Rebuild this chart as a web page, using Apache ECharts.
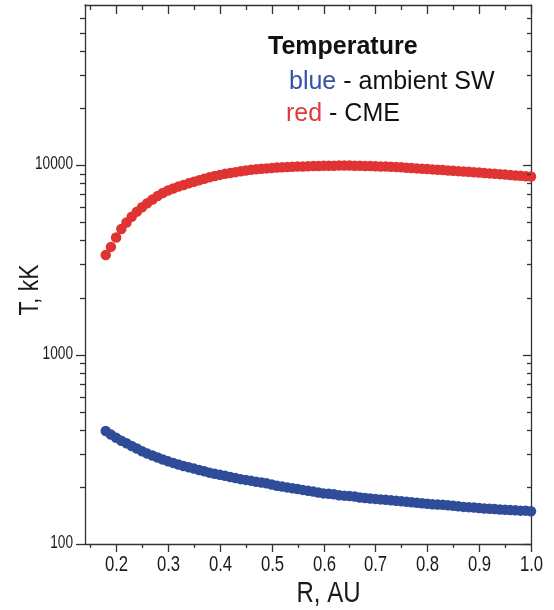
<!DOCTYPE html>
<html>
<head>
<meta charset="utf-8">
<script src="https://cdn.jsdelivr.net/npm/echarts@6/dist/echarts.min.js"></script>
<style>
  html, body { margin: 0; padding: 0; background: #fff; }
  #chart { width: 554px; height: 610px; }
</style>
</head>
<body>
<div id="chart"></div>
<script>
  // 读图得到的数据 (R in AU, T in kK)
  var radius = [0.18, 0.19, 0.20, 0.21, 0.22, 0.23, 0.24, 0.25, 0.26, 0.27, 0.28, 0.29,
    0.30, 0.31, 0.32, 0.33, 0.34, 0.35, 0.36, 0.37, 0.38, 0.39, 0.40, 0.41, 0.42, 0.43,
    0.44, 0.45, 0.46, 0.47, 0.48, 0.49, 0.50, 0.51, 0.52, 0.53, 0.54, 0.55, 0.56, 0.57,
    0.58, 0.59, 0.60, 0.61, 0.62, 0.63, 0.64, 0.65, 0.66, 0.67, 0.68, 0.69, 0.70, 0.71,
    0.72, 0.73, 0.74, 0.75, 0.76, 0.77, 0.78, 0.79, 0.80, 0.81, 0.82, 0.83, 0.84, 0.85,
    0.86, 0.87, 0.88, 0.89, 0.90, 0.91, 0.92, 0.93, 0.94, 0.95, 0.96, 0.97, 0.98, 0.99, 1.00];
  var tempAmbient = [395, 378, 364, 351, 340, 329, 319, 309, 300, 293, 286, 279,
    273, 268, 263, 258, 254, 250, 246, 242, 238, 235, 232, 229, 226, 223,
    220, 218, 216, 213, 211, 209, 206, 203, 201, 199, 197, 195, 193, 191,
    189, 187, 185, 184, 183, 181, 180, 179, 178, 176, 175, 174, 173, 172,
    171, 170, 169, 168, 167, 166, 165, 164, 163, 162, 161.5, 161, 160, 159,
    158, 157, 156.5, 156, 155, 154, 153.5, 153, 152, 151.5, 151, 150.5, 150, 150, 149];
  var tempCME = [3350, 3700, 4150, 4600, 4980, 5340, 5680, 5990, 6290, 6580, 6860, 7130,
    7350, 7530, 7700, 7860, 8010, 8160, 8320, 8480, 8630, 8760, 8880, 8990, 9090, 9180,
    9270, 9360, 9440, 9500, 9560, 9610, 9660, 9700, 9740, 9770, 9800, 9820, 9840, 9860,
    9880, 9900, 9910, 9920, 9930, 9940, 9940, 9940, 9930, 9920, 9900, 9880, 9860, 9840,
    9820, 9790, 9760, 9730, 9690, 9650, 9610, 9570, 9530, 9490, 9450, 9410, 9370, 9330,
    9290, 9250, 9210, 9170, 9130, 9090, 9040, 9000, 8960, 8910, 8870, 8820, 8780, 8740, 8700];

  // 刻度和刻度标签
  var xMajorTicks = [0.2, 0.3, 0.4, 0.5, 0.6, 0.7, 0.8, 0.9, 1.0];
  var xTickLabels = ['0.2', '0.3', '0.4', '0.5', '0.6', '0.7', '0.8', '0.9', '1.0'];
  var xMinorTicks = [0.15, 0.25, 0.35, 0.45, 0.55, 0.65, 0.75, 0.85, 0.95];
  var yMajorTicks = [100, 1000, 10000];
  var yTickLabels = ['100', '1000', '10000'];
  var yMinorTicks = [200, 300, 400, 500, 600, 700, 800, 900,
    2000, 3000, 4000, 5000, 6000, 7000, 8000, 9000,
    20000, 30000, 40000, 50000, 60000];

  var xMin = 0.14, xMax = 1.0, yMin = 100, yMax = 70000;
  var BLUE = '#2f4c99', RED = '#df3431', AXIS = '#333', INK = '#1a1a1a';
  var SANS = "'Liberation Sans', Arial, sans-serif";

  function pairs(xs, ys) {
    return xs.map(function (x, i) { return [x, ys[i]]; });
  }

  var xTickData = xMajorTicks.map(function (v) { return [v, yMin]; })
    .concat(xMinorTicks.map(function (v) { return [v, yMin]; }));
  var yTickData = yMajorTicks.map(function (v) { return [xMin, v]; })
    .concat(yMinorTicks.map(function (v) { return [xMin, v]; }));

  function tickLine(x1, y1, x2, y2) {
    return { type: 'line', shape: { x1: x1, y1: y1, x2: x2, y2: y2 },
      style: { stroke: AXIS, lineWidth: 1.3 } };
  }

  // 用 custom 系列画刻度和标签（底/左朝外，顶/右朝内），字体横向压窄
  function renderXTick(params, api) {
    var cs = params.coordSys;
    var major = params.dataIndex < xMajorTicks.length;
    var px = Math.round(api.coord([api.value(0), yMin])[0]) + 0.5;
    var len = major ? 8 : 4;
    var bottom = cs.y + cs.height;
    var children = [
      tickLine(px, bottom, px, bottom + len),
      tickLine(px, cs.y, px, cs.y + len + 1)
    ];
    if (major) {
      children.push({ type: 'text', x: px, y: bottom + 20.5, scaleX: 0.76,
        style: { text: xTickLabels[params.dataIndex], x: 0, y: 0, fill: INK,
          font: '22px ' + SANS, align: 'center', verticalAlign: 'middle' } });
    }
    return { type: 'group', children: children };
  }
  function renderYTick(params, api) {
    var cs = params.coordSys;
    var major = params.dataIndex < yMajorTicks.length;
    var py = Math.round(api.coord([xMin, api.value(1)])[1]) + 0.5;
    var len = major ? 9 : 5;
    var right = cs.x + cs.width;
    var children = [
      tickLine(cs.x - len, py, cs.x, py),
      tickLine(right - len + 1, py, right, py)
    ];
    if (major) {
      children.push({ type: 'text', x: cs.x - 12, y: py - 2, scaleX: 0.72,
        style: { text: yTickLabels[params.dataIndex], x: 0, y: 0, fill: INK,
          font: '19px ' + SANS, align: 'right', verticalAlign: 'middle' } });
    }
    return { type: 'group', children: children };
  }

  var chart = echarts.init(document.getElementById('chart'));
  var option = {
    animation: false,
    backgroundColor: '#fff',
    grid: { left: 85, right: 23, top: 5, bottom: 66 },
    xAxis: [
      {
        type: 'value', position: 'bottom', min: xMin, max: xMax,
        axisLine: { show: true, lineStyle: { color: AXIS, width: 1.3 } },
        axisTick: { show: false }, axisLabel: { show: false }, splitLine: { show: false }
      },
      {
        type: 'value', position: 'top', min: xMin, max: xMax,
        axisLine: { show: true, onZero: false, lineStyle: { color: AXIS, width: 1.3 } },
        axisTick: { show: false }, axisLabel: { show: false }, splitLine: { show: false }
      }
    ],
    yAxis: [
      {
        type: 'log', logBase: 10, position: 'left', min: yMin, max: yMax,
        axisLine: { show: true, lineStyle: { color: AXIS, width: 1.3 } },
        axisTick: { show: false }, axisLabel: { show: false }, splitLine: { show: false }
      },
      {
        type: 'log', logBase: 10, position: 'right', min: yMin, max: yMax,
        axisLine: { show: true, onZero: false, lineStyle: { color: AXIS, width: 1.3 } },
        axisTick: { show: false }, axisLabel: { show: false }, splitLine: { show: false }
      }
    ],
    graphic: [
      { type: 'text', x: 296.5, y: 594, scaleX: 0.8,
        style: { text: 'R, AU', x: 0, y: 0, fill: INK, font: '30px ' + SANS,
          align: 'left', verticalAlign: 'middle' } },
      { type: 'text', x: 30, y: 290, rotation: Math.PI / 2, scaleX: 0.82,
        style: { text: 'T, kK', x: 0, y: 0, fill: INK, font: '28px ' + SANS,
          align: 'center', verticalAlign: 'middle' } },
      { type: 'text', x: 268, y: 47.5,
        style: { text: 'Temperature', fill: '#111', font: 'bold 25px ' + SANS,
          align: 'left', verticalAlign: 'middle' } },
      { type: 'text', x: 289, y: 82.5,
        style: { text: '{b|blue} - ambient SW', fill: '#111', font: '25px ' + SANS,
          align: 'left', verticalAlign: 'middle',
          rich: { b: { fill: '#3552a8', font: '25px ' + SANS } } } },
      { type: 'text', x: 286, y: 114,
        style: { text: '{r|red} - CME', fill: '#111', font: '25px ' + SANS,
          align: 'left', verticalAlign: 'middle',
          rich: { r: { fill: '#e23a3a', font: '25px ' + SANS } } } }
    ],
    series: [
      {
        name: 'ambient SW', type: 'scatter', symbol: 'circle', symbolSize: 10.5,
        itemStyle: { color: BLUE, opacity: 1 },
        data: pairs(radius, tempAmbient)
      },
      {
        name: 'CME', type: 'scatter', symbol: 'circle', symbolSize: 10.5,
        itemStyle: { color: RED, opacity: 1 },
        data: pairs(radius, tempCME)
      },
      {
        type: 'custom', silent: true, clip: false, z: 5,
        renderItem: renderXTick, data: xTickData
      },
      {
        type: 'custom', silent: true, clip: false, z: 5,
        renderItem: renderYTick, data: yTickData
      }
    ]
  };
  chart.setOption(option);
</script>
</body>
</html>
